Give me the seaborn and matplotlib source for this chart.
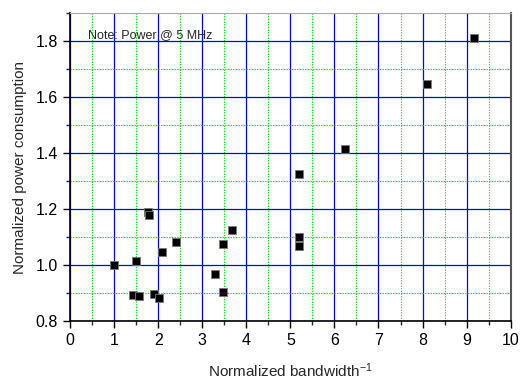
import matplotlib
matplotlib.use("Agg")
import matplotlib.pyplot as plt
import seaborn as sns
import pandas as pd
from matplotlib.ticker import MultipleLocator, FormatStrFormatter

# values
inv_bandwidth = [1.0, 1.5, 1.44, 1.57, 1.78, 1.8, 1.91, 2.03, 2.09, 2.41,
                 3.3, 3.48, 3.48, 3.68, 5.2, 5.2, 5.2, 6.25, 8.1, 9.17]
norm_power = [1.0, 1.014, 0.893, 0.888, 1.19, 1.18, 0.898, 0.883, 1.045, 1.081,
              0.967, 1.077, 0.904, 1.127, 1.327, 1.099, 1.068, 1.414, 1.649, 1.811]

sns.set_style("ticks")
plt.rcParams.update({
    "font.family": ["Liberation Sans", "DejaVu Sans"],
    "font.size": 11,
    "mathtext.default": "regular",
})


def main():
    df = pd.DataFrame({"bw": inv_bandwidth, "power": norm_power})

    fig = plt.figure(figsize=(5.25, 3.81), dpi=100)
    ax = fig.add_axes([0.1333, 0.1575, 0.8395, 0.8075])

    sns.scatterplot(data=df, x="bw", y="power", ax=ax, marker="s", s=30,
                    color="black", edgecolor="#777777", linewidth=0.6, zorder=5)

    ax.set_xlim(0, 10)
    ax.set_ylim(0.8, 1.9)
    ax.xaxis.set_major_locator(MultipleLocator(1))
    ax.xaxis.set_minor_locator(MultipleLocator(0.5))
    ax.yaxis.set_major_locator(MultipleLocator(0.2))
    ax.yaxis.set_minor_locator(MultipleLocator(0.1))
    ax.yaxis.set_major_formatter(FormatStrFormatter("%.1f"))

    ax.grid(True, which="major", color="#0000ff", linewidth=0.9, linestyle="-")
    ax.grid(True, which="minor", color="#00ee00", linewidth=0.8, linestyle=(0, (1.2, 1.2)))
    ax.set_axisbelow(True)

    ax.tick_params(which="major", direction="out", length=5, width=1, labelsize=11.5, colors="black")
    ax.tick_params(which="minor", direction="out", length=3, width=1)

    for side in ("left", "bottom"):
        ax.spines[side].set_color("black")
        ax.spines[side].set_linewidth(1.2)
    ax.spines["top"].set_color("#aaaaaa")
    ax.spines["right"].set_color("#555555")
    ax.spines["right"].set_linewidth(1.5)

    ax.set_xlabel("Normalized bandwidth$^{-1}$", fontsize=11, labelpad=10)
    ax.set_ylabel("Normalized power consumption", fontsize=11, labelpad=6)

    ax.text(0.4, 1.822, "Note: Power @ 5 MHz", fontsize=9, va="center", ha="left")

    fig.savefig("out.png", dpi=100)
    plt.close(fig)


if __name__ == "__main__":
    main()
